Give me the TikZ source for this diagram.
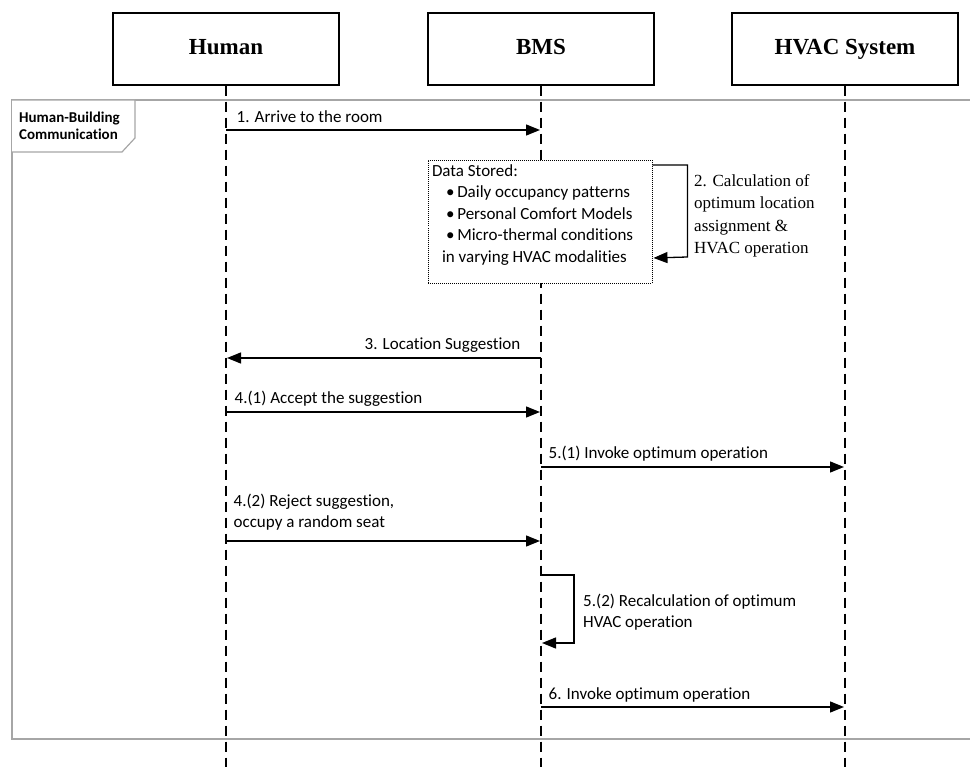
\documentclass[tikz,border=0pt]{standalone}
\usepackage{fontspec}
\setmainfont{Carlito}[Ligatures={NoCommon}]
\newfontfamily\headserif{Liberation Serif}
\usetikzlibrary{arrows.meta,calc}

\tikzset{
  actor/.style={draw, line width=1.4pt, minimum width=226pt, minimum height=72pt,
    inner sep=0pt, text height=16pt, text depth=5pt,
    font=\headserif\bfseries\fontsize{23}{26}\selectfont},
  lifeline/.style={line width=1.3pt, dash pattern=on 10pt off 6pt},
  msg/.style={line width=1.3pt, -{Triangle[length=14pt,width=11pt]}, shorten >=1pt},
  lbl/.style={font=\fontsize{17}{21.5}\selectfont, inner sep=0pt, align=left},
  seriflbl/.style={font=\headserif\fontsize{17}{22.5}\selectfont, inner sep=0pt, align=left},
  framecol/.style={draw=black!35, line width=1.2pt},
  tagtext/.style={font=\bfseries\fontsize{15}{17.5}\selectfont, inner sep=0pt, align=left},
  databox/.style={draw, densely dotted, line width=1pt, fill=white, inner sep=4pt,
    font=\fontsize{17}{21.5}\selectfont}
}

\begin{document}
\begin{tikzpicture}[x=1pt,y=-1pt]
\useasboundingbox (0,0) rectangle (970,767);

% interaction frame and its tag
\draw[framecol] (970,100) -- (12,100) -- (12,739) -- (970,739);
\draw[framecol, fill=white] (12,100) -- (135,100) -- (135,138) -- (122,152) -- (12,152);
\node[tagtext, anchor=west] (tag) at (19,126) {Human-Building\\Communication};

% participants
\node[actor] (hum) at (226,49) {Human};
\node[actor] (bms) at (541,49) {BMS};
\node[actor] (hvac) at (845,49) {HVAC System};

\coordinate (humEnd) at (226,767);
\coordinate (bmsEnd) at (541,767);
\coordinate (hvacEnd) at (845,767);

\draw[lifeline] (hum.south) -- (humEnd);
\draw[lifeline] (bms.south) -- (bmsEnd);
\draw[lifeline] (hvac.south) -- (hvacEnd);

% message rows
\coordinate (r1) at (0,130);
\coordinate (r3) at (0,358);
\coordinate (r41) at (0,412);
\coordinate (r51) at (0,467);
\coordinate (r42) at (0,541);
\coordinate (r52a) at (0,575);
\coordinate (r52b) at (0,643);
\coordinate (r6) at (0,707);

% 1
\draw[msg] (hum |- r1) -- (bms |- r1)
  node[lbl, pos=0, anchor=base west, xshift=10pt, yshift=7pt] {1. Arrive to the room};

% stored data and step 2
\node[databox, anchor=north] (data) at (540,160)
  {\parbox[t][115pt][t]{216pt}{\raggedright
   Data Stored:\\
   \hspace*{14pt}\textbullet\,Daily occupancy patterns\\
   \hspace*{14pt}\textbullet\,Personal Comfort Models\\
   \hspace*{14pt}\textbullet\,Micro-thermal conditions\\
   \hspace*{10pt}in varying HVAC modalities}};
\draw[msg] ([yshift=-5pt]data.north east) -- ++(35,0) -- ++(0,92)
  -- ([yshift=26pt]data.south east);
\node[seriflbl, anchor=west] (calc) at (694,216)
  {2. Calculation of\\optimum location\\assignment \&\\HVAC operation};

% 3
\draw[msg] (bms |- r3) -- (hum |- r3)
  node[lbl, pos=0, anchor=base east, xshift=-20pt, yshift=8pt] {3. Location Suggestion};

% 4.(1)
\draw[msg] (hum |- r41) -- (bms |- r41)
  node[lbl, pos=0, anchor=base west, xshift=8pt, yshift=8pt] {4.(1) Accept the suggestion};

% 5.(1)
\draw[msg] (bms |- r51) -- (hvac |- r51)
  node[lbl, pos=0, anchor=base west, xshift=7pt, yshift=8pt] {5.(1) Invoke optimum operation};

% 4.(2)
\draw[msg] (hum |- r42) -- (bms |- r42)
  node[lbl, pos=0, anchor=south west, xshift=7pt, yshift=10pt] {4.(2) Reject suggestion,\\occupy a random seat};

% 5.(2) self call
\draw[msg] (bms |- r52a) -- ++(33,0) -- ++(0,68) -- (bms |- r52b);
\node[lbl, anchor=west] (recalc) at (583,612) {5.(2) Recalculation of optimum\\HVAC operation};

% 6
\draw[msg] (bms |- r6) -- (hvac |- r6)
  node[lbl, pos=0, anchor=base west, xshift=7pt, yshift=8pt] {6. Invoke optimum operation};

\end{tikzpicture}
\end{document}
